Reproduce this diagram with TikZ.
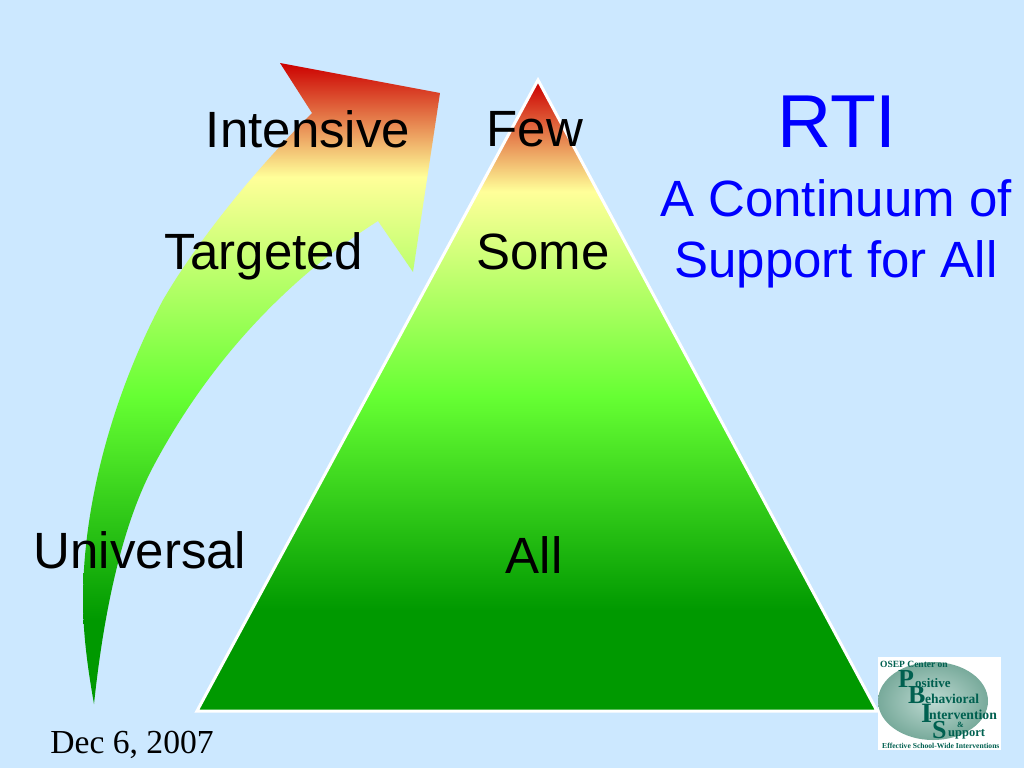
\documentclass[tikz,border=0pt]{standalone}
\usepackage{fontspec}
\setmainfont{Liberation Sans}
\newfontfamily\serifdate{Liberation Serif}
\definecolor{bgblue}{RGB}{204,232,255}
\definecolor{pure}{RGB}{0,0,255}
\definecolor{logoteal}{RGB}{0,96,80}
\definecolor{logoin}{RGB}{190,218,210}
\definecolor{logoout}{RGB}{120,170,155}
\pgfdeclareverticalshading{arrowgrad}{100bp}{
 rgb(0bp)=(0,0.6,0);
 rgb(25bp)=(0,0.6,0);
 rgb(31.5bp)=(0,0.6,0);
 rgb(49bp)=(0.4,1,0.2);
 rgb(66.1bp)=(1,1,0.6);
 rgb(75bp)=(0.8,0,0);
 rgb(100bp)=(0.8,0,0)}
\pgfdeclareverticalshading{trigrad}{100bp}{
 rgb(0bp)=(0,0.6,0);
 rgb(25bp)=(0,0.6,0);
 rgb(33bp)=(0,0.6,0);
 rgb(50bp)=(0.4,1,0.2);
 rgb(66.3bp)=(1,1,0.6);
 rgb(75bp)=(0.8,0,0);
 rgb(100bp)=(0.8,0,0)}
\tikzset{
 lbl/.style={font=\fontsize{51}{51}\selectfont,text=black,inner sep=0pt,anchor=base},
 bluelbl/.style={font=\fontsize{51}{51}\selectfont,text=pure,inner sep=0pt,anchor=base},
 logo/.style={font=\fontsize{#1}{#1}\selectfont\serifdate\bfseries,text=logoteal,inner sep=0pt,anchor=base west},
}
\begin{document}
\begin{tikzpicture}[x=1pt,y=-1pt]
\useasboundingbox (0,0) rectangle (1024,768);
\fill[bgblue] (0,0) rectangle (1024,768);
% curved arrow
\begin{scope}
\clip (94,704) .. controls (88,670) and (83,635) .. (83,600)
 .. controls (83,500) and (115,390) .. (163,300)
 .. controls (195,245) and (250,175) .. (312,113)
 -- (280,63) -- (440,93) -- (413,272) -- (378,221)
 .. controls (300,270) and (215,350) .. (153,467)
 .. controls (125,520) and (105,600) .. (94,704) -- cycle;
\shade[shading=arrowgrad] (70,63) rectangle (450,704);
\end{scope}
% pyramid
\begin{scope}
\clip (538,80) -- (877,711) -- (197,711) -- cycle;
\shade[shading=trigrad] (190,82) rectangle (885,711);
\end{scope}
\draw[white,line width=3pt,line join=miter] (538,80) -- (877,711) -- (197,711) -- cycle;
% labels
\node[lbl] (intensive) at (308,147) {Intensive};
\node[lbl] (targeted) at (264,269) {Targeted};
\node[lbl] (universal) at (140,568) {Universal};
\node[lbl] (few) at (535,146) {Few};
\node[lbl] (some) at (543,269) {Some};
\node[lbl] (all) at (534,573) {All};
\node[bluelbl,font=\fontsize{75}{75}\selectfont] (rti) at (837,147) {RTI};
\node[bluelbl] (cont) at (836,216) {A Continuum of};
\node[bluelbl] (supp) at (836,277) {Support for All};
\node[font=\fontsize{33.6}{34}\selectfont\serifdate,text=black,inner sep=0pt,anchor=base] (date) at (132,753) {Dec 6, 2007};
% logo
\fill[white] (878,657) rectangle (1001,750);
\shade[inner color=logoin,outer color=logoout] (933,701) ellipse (55 and 39);
\node[logo=9.5] (l1) at (880,667) {OSEP Center on};
\node[logo=26] (lp) at (898,687) {P};
\node[logo=13] (l2) at (915,687) {ositive};
\node[logo=26] (lb) at (908,703) {B};
\node[logo=13.5] (l3) at (925,703) {ehavioral};
\node[logo=28] (li) at (921,722) {I};
\node[logo=13.7] (l4) at (929,719) {ntervention};
\node[logo=8] (l5) at (957,727) {\&};
\node[logo=26] (ls) at (932,738) {S};
\node[logo=12.5] (l6) at (948,736) {upport};
\node[logo=7.6] (l7) at (882,748) {Effective School-Wide Interventions};
\end{tikzpicture}
\end{document}
